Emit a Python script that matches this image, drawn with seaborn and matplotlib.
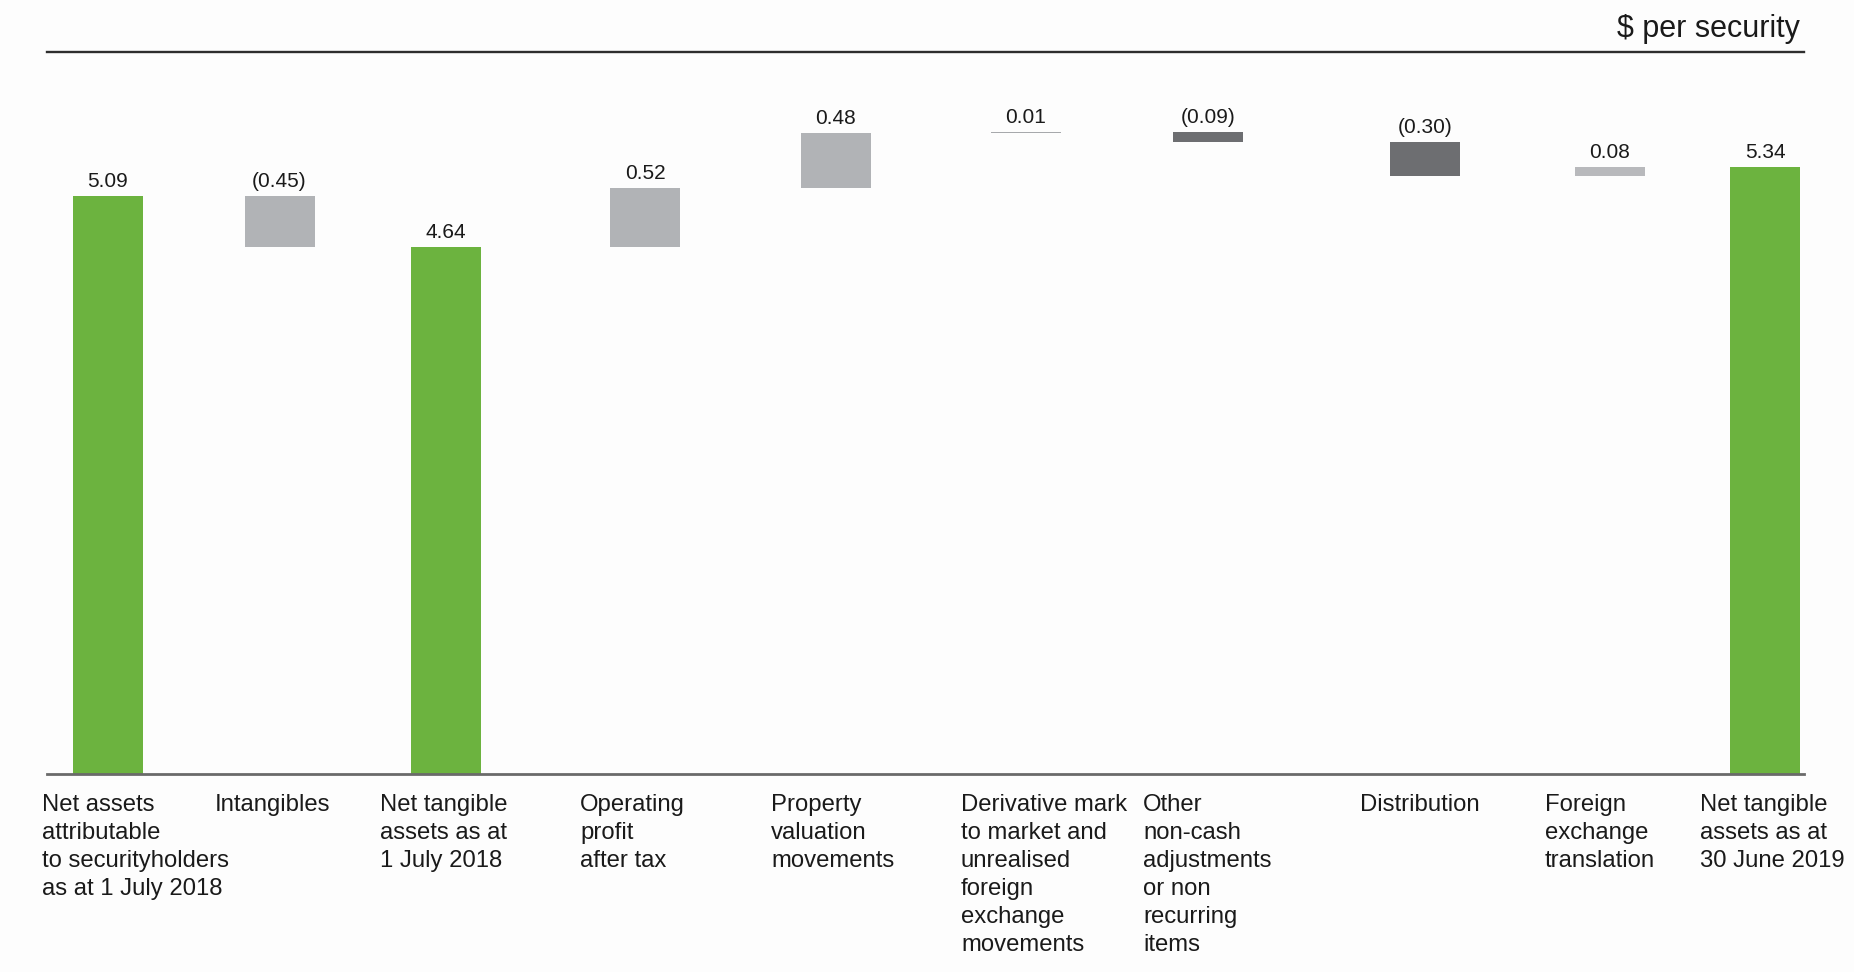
import numpy as np
import pandas as pd
import matplotlib
matplotlib.use("Agg")
import matplotlib.pyplot as plt
import seaborn as sns

# ---------------- data ----------------
categories = [
    "Net assets\nattributable\nto securityholders\nas at 1 July 2018",
    "Intangibles",
    "Net tangible\nassets as at\n1 July 2018",
    "Operating\nprofit\nafter tax",
    "Property\nvaluation\nmovements",
    "Derivative mark\nto market and\nunrealised\nforeign\nexchange\nmovements",
    "Other\nnon-cash\nadjustments\nor non\nrecurring\nitems",
    "Distribution",
    "Foreign\nexchange\ntranslation",
    "Net tangible\nassets as at\n30 June 2019",
]
values = [5.09, -0.45, 4.64, 0.52, 0.48, 0.01, -0.09, -0.30, 0.08, 5.34]
kinds = ["total", "change", "total", "change", "change", "change",
         "change", "change", "change", "total"]
value_labels = ["5.09", "(0.45)", "4.64", "0.52", "0.48", "0.01",
                "(0.09)", "(0.30)", "0.08", "5.34"]
unit_label = "$ per security"

# ---------------- layout / style ----------------
x_pos = [107.5, 279.5, 445.5, 645, 836, 1026, 1208, 1425, 1610, 1765]
bar_w = 70
GREEN = "#6cb33f"
colors = [GREEN, "#b1b3b6", GREEN, "#b1b3b6", "#b1b3b6", "#a7a9ac",
          "#6d6e71", "#6d6e71", "#b8b9bc", GREEN]
BG = "#fdfdfd"
TXT = "#1a1a1a"

# waterfall geometry from values
bottoms, heights, tops = [], [], []
running = 0.0
for v, k in zip(values, kinds):
    if k == "total":
        b, h = 0.0, v
        running = v
    else:
        b = running if v >= 0 else running + v
        h = abs(v)
        running += v
    bottoms.append(b)
    heights.append(h)
    tops.append(b + h)

df = pd.DataFrame({"category": categories, "x": x_pos, "bottom": bottoms,
                   "height": heights, "top": tops, "label": value_labels})

sns.set_theme(style="white")
plt.rcParams["font.family"] = ["Liberation Sans", "DejaVu Sans"]

fig = plt.figure(figsize=(18.54, 9.72), dpi=100, facecolor=BG)
W, H = 1854, 972
ax_left, ax_right = 47, 1804
ax_top, ax_bottom = 52, 774
ax = fig.add_axes([ax_left / W, 1 - ax_bottom / H,
                   (ax_right - ax_left) / W, (ax_bottom - ax_top) / H])
ax.set_facecolor(BG)

ax.bar(df["x"], df["height"], bottom=df["bottom"], width=bar_w,
       color=colors, linewidth=0, zorder=2)

ax.set_xlim(ax_left, ax_right)
ax.set_ylim(0, 6.355)

# value labels above each bar
for _, r in df.iterrows():
    ax.annotate(r["label"], xy=(r["x"], r["top"]), xytext=(0, 6.5),
                textcoords="offset points", ha="center", va="baseline",
                fontsize=15, color=TXT, zorder=3)

# category labels, left aligned slightly left of each bar, line by line
xt = ax.get_xaxis_transform()
for x, cat in zip(x_pos, categories):
    for j, line in enumerate(cat.split("\n")):
        ax.annotate(line, xy=(x - bar_w / 2 - 30, 0), xycoords=xt,
                    xytext=(0, -26.3 - j * 20.2), textcoords="offset points",
                    ha="left", va="baseline", fontsize=17.2, color=TXT,
                    annotation_clip=False)

ax.set_xticks([])
ax.set_yticks([])

for s in ["left", "right"]:
    ax.spines[s].set_visible(False)
ax.spines["bottom"].set_color("#6a6a6a")
ax.spines["bottom"].set_linewidth(2.0)
ax.spines["bottom"].set_zorder(4)
ax.spines["top"].set_color("#2e2e2e")
ax.spines["top"].set_linewidth(1.7)

fig.text(1800 / W, 1 - 29.5 / H, unit_label, ha="right", va="center",
         fontsize=22, color=TXT)

fig.savefig("out.png", dpi=100, facecolor=BG)
